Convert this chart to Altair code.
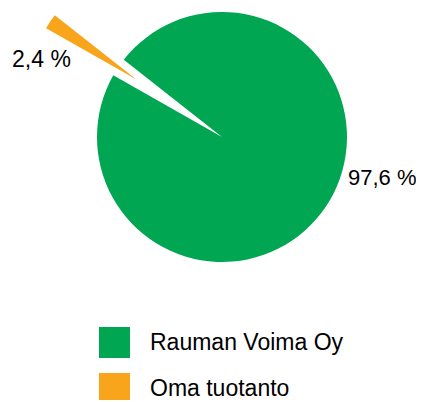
import math
import altair as alt
import pandas as pd

sources = ["Rauman Voima Oy", "Oma tuotanto"]
shares = [97.6, 2.4]
labels = ["97,6 %", "2,4 %"]
colors = ["#00a651", "#f8a51b"]
order = [0, 1]

df = pd.DataFrame({"source": sources, "share": shares, "label": labels, "order": order})

CX, CY = 214, 129
START = 308.2 / 180 * math.pi
theta_scale = alt.Scale(domain=[0, 100], range=[START, START + 2 * math.pi])
FONT = "Liberation Sans"

color = alt.Color(
    "source:N",
    scale=alt.Scale(domain=sources, range=colors),
    sort=sources,
    legend=alt.Legend(
        title=None, orient="none", legendX=91, legendY=319, padding=0,
        symbolType="square", symbolSize=961, symbolStrokeWidth=0, symbolOpacity=1,
        labelFont=FONT, labelFontSize=23, labelColor="#000000",
        labelOffset=20, rowPadding=15, labelLimit=400,
    ),
)

base = (
    alt.Chart(df)
    .transform_window(end="sum(share)", sort=[alt.SortField("order")], frame=[None, 0])
    .transform_calculate(
        begin="datum.end - datum.share",
        mid="datum.end - datum.share / 2",
    )
    .transform_calculate(midRad=f"{START} + datum.mid / 100 * 2 * PI")
)

green = (
    base.transform_filter("datum.order == 0")
    .mark_arc(outerRadius=125, stroke=None)
    .encode(
        theta=alt.Theta("begin:Q", scale=theta_scale),
        theta2="end:Q",
        color=color,
        x=alt.value(CX),
        y=alt.value(CY),
    )
)

orange = (
    base.transform_filter("datum.order == 1")
    .transform_calculate(
        cx=f"{CX} + 103 * sin(datum.midRad)",
        cy=f"{CY} - 103 * cos(datum.midRad)",
    )
    .mark_arc(outerRadius=104, stroke=None)
    .encode(
        theta=alt.Theta("begin:Q", scale=theta_scale),
        theta2="end:Q",
        color=color,
        x=alt.X("cx:Q", scale=None, axis=None),
        y=alt.Y("cy:Q", scale=None, axis=None),
    )
)

text_green = (
    base.transform_filter("datum.order == 0")
    .transform_calculate(
        tx=f"{CX} + 140 * sin(datum.midRad) + 44",
        ty=f"{CY} - 140 * cos(datum.midRad) - 37",
    )
    .mark_text(font=FONT, fontSize=22, color="#000000", align="center", baseline="middle")
    .encode(x=alt.X("tx:Q", scale=None, axis=None), y=alt.Y("ty:Q", scale=None, axis=None), text="label:N")
)

text_orange = (
    base.transform_filter("datum.order == 1")
    .transform_calculate(
        tx=f"{CX} + 197 * sin(datum.midRad) - 17",
        ty=f"{CY} - 197 * cos(datum.midRad) + 33",
    )
    .mark_text(font=FONT, fontSize=23, color="#000000", align="center", baseline="middle")
    .encode(x=alt.X("tx:Q", scale=None, axis=None), y=alt.Y("ty:Q", scale=None, axis=None), text="label:N")
)

chart = (
    alt.layer(green, orange, text_green, text_orange)
    .properties(width=408, height=392, autosize=alt.AutoSizeParams(type="none"), padding=0)
    .configure(background="#ffffff", view=alt.ViewConfig(stroke=None))
)

chart.save("out.html", embed_options={"renderer": "svg", "actions": False})
